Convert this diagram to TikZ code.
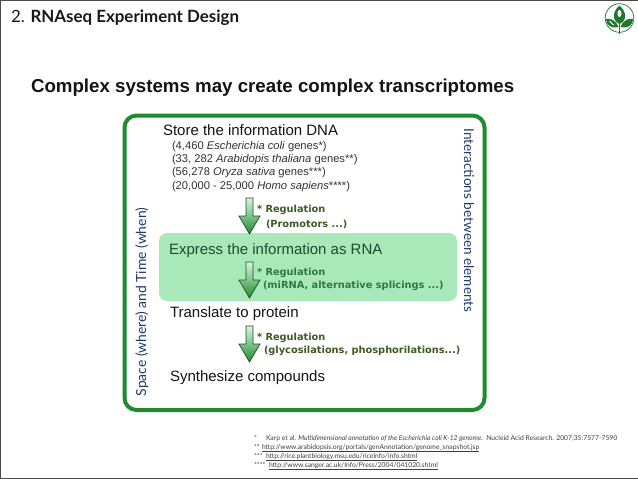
\documentclass[tikz,border=0pt]{standalone}
\usepackage{fontspec}
\setmainfont{Liberation Sans}
\newfontfamily\gill{Lato}
\newfontfamily\verd{DejaVu Sans}
\definecolor{boxgreen}{HTML}{1F8A2E}
\definecolor{panelgreen}{HTML}{A9E9B9}
\definecolor{navy}{HTML}{1F3A6E}
\definecolor{olive}{HTML}{3F5A24}
\definecolor{midgreen}{HTML}{2C7A3C}
\definecolor{exprgreen}{HTML}{1E4A2C}
\definecolor{framegray}{HTML}{4A4A4A}
\definecolor{logogreen}{HTML}{1C7A2A}
\definecolor{arrowtop}{HTML}{D8F8DC}
\definecolor{arrowmid}{HTML}{6CD078}
\definecolor{arrowbot}{HTML}{1C8C2E}
\definecolor{arrowline}{HTML}{24482C}
\newcommand{\blockarr}[1]{\draw[blockarrow] (#1) -- ++(-10.5,-18) -- ++(7,0) -- ++(0,-18) -- ++(7,0) -- ++(0,18) -- ++(7,0) -- cycle;}
\tikzset{
  x=1pt,y=-1pt,
  txt/.style={inner sep=0pt,outer sep=0pt,anchor=base west},
  big/.style={txt,font=\fontsize{15}{18}\selectfont,text=black!92},
  small/.style={txt,font=\fontsize{11.2}{13}\selectfont,text=black!80},
  reg/.style={txt,font=\verd\bfseries\fontsize{9.8}{11}\selectfont},
  note/.style={txt,font=\gill\fontsize{6.77}{8}\selectfont,text=black!75},
  side/.style={inner sep=0pt,outer sep=0pt,font=\gill\fontsize{13.9}{15}\selectfont,text=navy},
  blockarrow/.style={draw=arrowline,line width=.7pt,line join=miter,top color=arrowtop,middle color=arrowmid,bottom color=arrowbot},
}
\begin{document}
\begin{tikzpicture}
\useasboundingbox (0,0) rectangle (638,479);
\fill[white] (0,0) rectangle (638,479);
\fill[framegray] (0,0) rectangle (638,1.2);
\fill[framegray] (0,477.6) rectangle (638,479);
\fill[framegray] (0,0) rectangle (.8,479);

\node[txt,font=\gill\fontsize{16.9}{19}\selectfont,text=black!90] (title) at (11,23) {2. \textbf{RNAseq Experiment Design}};
\node[txt,font=\bfseries\fontsize{18.7}{22}\selectfont,text=black!92] (heading) at (31,92.5) {Complex systems may create complex transcriptomes};

\draw[boxgreen,line width=4pt,rounded corners=12pt,fill=white] (124.5,115.5) rectangle (484.5,410);
\fill[panelgreen,rounded corners=8pt] (159,233) rectangle (457,301);

\node[big] (store) at (163,135) {Store the information DNA};
\node[small] (g1) at (172,149) {(4,460 \textit{Escherichia coli} genes*)};
\node[small] (g2) at (172,162.5) {(33, 282 \textit{Arabidopis thaliana} genes**)};
\node[small] (g3) at (172,175.5) {(56,278 \textit{Oryza sativa} genes***)};
\node[small] (g4) at (172,189) {(20,000 - 25,000 \textit{Homo sapiens}****)};

\node[big,text=exprgreen] (express) at (169,254) {Express the information as RNA};
\node[big] (translate) at (170,317) {Translate to protein};
\node[big] (synth) at (170,381) {Synthesize compounds};

\coordinate (t1) at (249.5,234);
\coordinate (t2) at (249.5,298);
\coordinate (t3) at (249.5,362);
\blockarr{t1}
\blockarr{t2}
\blockarr{t3}

\node[reg,text=olive] (r1a) at (257,212) {* Regulation};
\node[reg,text=olive] (r1b) at (266,227) {(Promotors ...)};
\node[reg,text=midgreen] (r2a) at (257,275) {* Regulation};
\node[reg,text=midgreen] (r2b) at (263,288) {(miRNA, alternative splicings ...)};
\node[reg,text=olive] (r3a) at (257,340) {* Regulation};
\node[reg,text=olive] (r3b) at (264,353) {(glycosilations, phosphorilations...)};

\node[side,rotate=90] (space) at (142,302) {Space (where) and Time (when)};
\node[side,rotate=-90,font=\gill\fontsize{13.6}{15}\selectfont] (inter) at (469,220.5) {Interactions between elements};

\node[note] (n1s) at (254,440) {*};
\node[note] (n1) at (266,440) {Karp et al. \textit{Multidimensional annotation of the Escherichia coli K-12 genome.}\ \ Nucleid Acid Research. 2007;35:7577-7590};
\node[note] (n2s) at (254,449) {**};
\node[note] (n2) at (262,449) {\underline{http://www.arabidopsis.org/portals/genAnnotation/genome\_snapshot.jsp}};
\node[note] (n3s) at (254,458) {***};
\node[note] (n3) at (266,458) {\underline{http://rice.plantbiology.msu.edu/riceInfo/info.shtml}};
\node[note] (n4s) at (254,467) {****};
\node[note] (n4) at (269,467) {\underline{http://www.sanger.ac.uk/Info/Press/2004/041020.shtml}};

% logo
\draw[logogreen,line width=.7pt] (619.5,18) circle (14.3);
\fill[logogreen] (619.5,5.5) .. controls (612,12) and (612,21) .. (619.5,24) .. controls (627,21) and (627,12) .. (619.5,5.5) -- cycle;
\fill[logogreen] (618.5,27) .. controls (616,20) and (610,18) .. (606,19) .. controls (606,25) and (611,29) .. (618.5,27) -- cycle;
\fill[logogreen] (620.5,27) .. controls (623,20) and (629,18) .. (633,19) .. controls (633,25) and (628,29) .. (620.5,27) -- cycle;
\draw[logogreen,line width=.8pt] (619.5,24) -- (619.5,34);
\fill[white] (619.5,13.5) ellipse (2 and 3.5);
\draw[white,line width=.8pt] (609.5,21) -- (613.5,25);
\end{tikzpicture}
\end{document}
